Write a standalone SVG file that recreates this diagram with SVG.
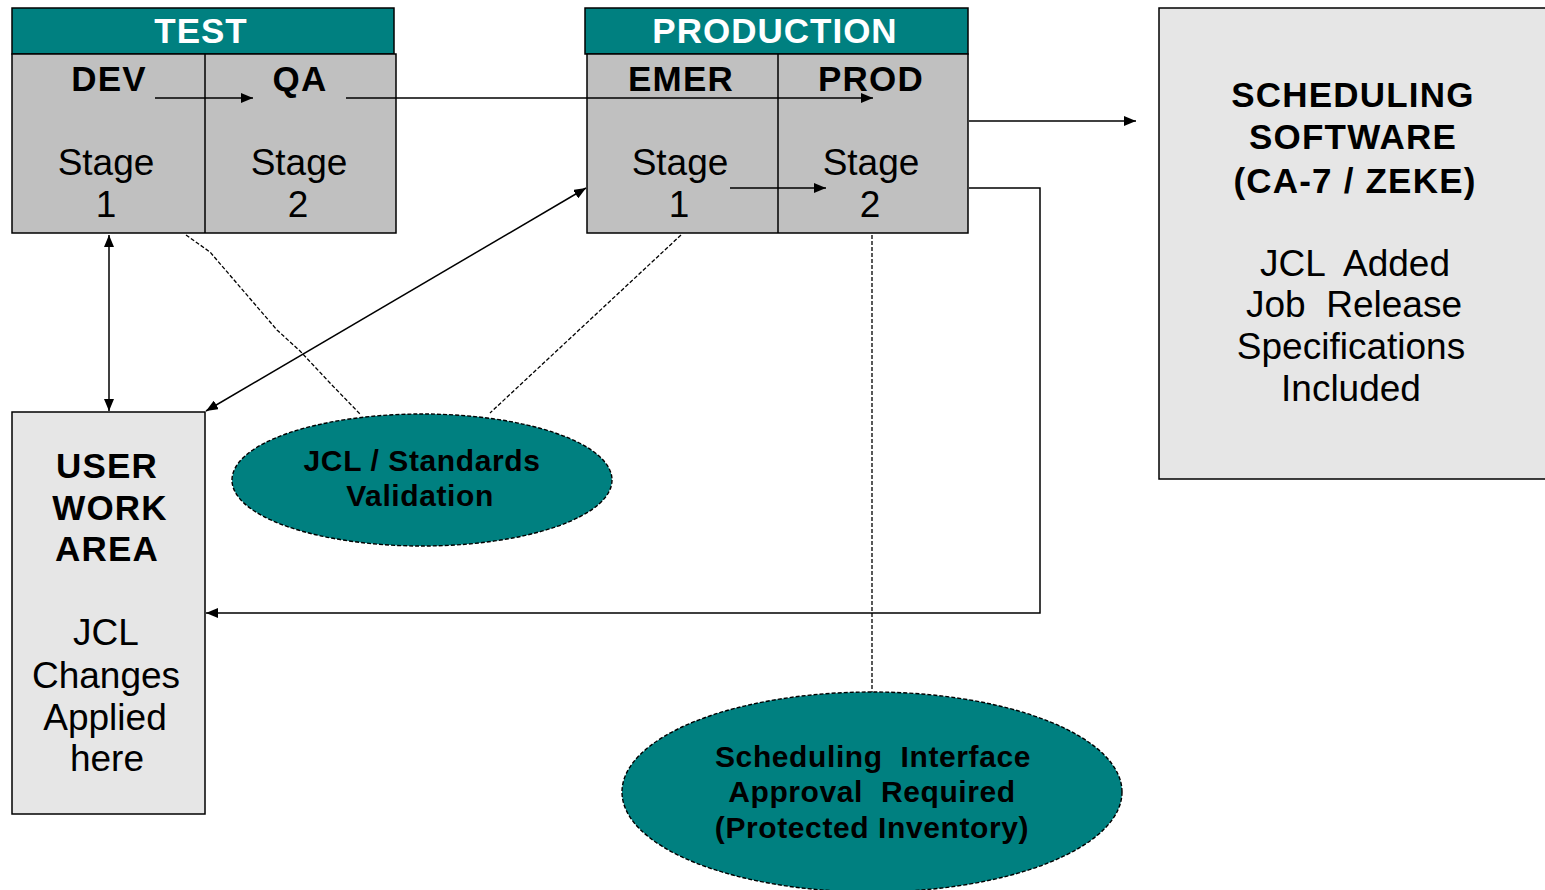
<svg xmlns="http://www.w3.org/2000/svg" width="1545" height="890" viewBox="0 0 1545 890">
  <style>
    .hdr { fill: #008080; stroke: #000; stroke-width: 1.5; }
    .body { fill: #c0c0c0; stroke: #000; stroke-width: 1.5; }
    .pale { fill: #e6e6e6; stroke: #000; stroke-width: 1.5; }
    .oval { fill: #008080; stroke: #000; stroke-width: 1.4; stroke-dasharray: 4 2; }
    .t { font-family: "Liberation Sans", Arial, sans-serif; text-anchor: middle; fill: #000; }
    .hd { font-size: 35px; font-weight: bold; fill: #fff; letter-spacing: 1px; }
    .bl { font-size: 35px; font-weight: bold; letter-spacing: 1.2px; }
    .rg { font-size: 37px; }
    .ov { font-size: 30px; font-weight: bold; letter-spacing: 0.6px; }
    .ln { fill: none; stroke: #000; stroke-width: 1.5; }
    .dash { fill: none; stroke: #000; stroke-width: 1.3; stroke-dasharray: 4 2; }
  </style>
  <defs>
    <marker id="ah" viewBox="0 0 12 10" refX="12" refY="5" markerWidth="12" markerHeight="10" markerUnits="userSpaceOnUse" orient="auto-start-reverse">
      <path d="M0,0 L12,5 L0,10 Z" fill="#000"/>
    </marker>
  </defs>

  <rect width="1545" height="890" fill="#fff"/>

  <!-- test environment -->
  <g id="test">
    <rect class="hdr" x="12" y="8" width="382" height="46"/>
    <text class="t hd" x="201" y="43">TEST</text>
    <rect class="body" x="12" y="54" width="384" height="179"/>
    <line class="ln" x1="205" y1="54" x2="205" y2="233"/>
  </g>
  <g id="dev">
    <text class="t bl" x="109" y="91">DEV</text>
    <text class="t rg" x="106" y="175">Stage</text>
    <text class="t rg" x="106" y="217">1</text>
  </g>
  <g id="qa">
    <text class="t bl" x="300" y="91">QA</text>
    <text class="t rg" x="299" y="175">Stage</text>
    <text class="t rg" x="298" y="217">2</text>
  </g>

  <!-- production environment -->
  <g id="production">
    <rect class="hdr" x="585" y="8" width="383" height="46"/>
    <text class="t hd" x="775" y="43">PRODUCTION</text>
    <rect class="body" x="587" y="54" width="381" height="179"/>
    <line class="ln" x1="778" y1="54" x2="778" y2="233"/>
  </g>
  <g id="emer">
    <text class="t bl" x="681" y="91">EMER</text>
    <text class="t rg" x="680" y="175">Stage</text>
    <text class="t rg" x="679" y="217">1</text>
  </g>
  <g id="prod">
    <text class="t bl" x="871" y="91">PROD</text>
    <text class="t rg" x="871" y="175">Stage</text>
    <text class="t rg" x="870" y="217">2</text>
  </g>

  <!-- scheduling software -->
  <g id="scheduling">
    <rect class="pale" x="1159" y="8" width="392" height="471"/>
    <text class="t bl" x="1353" y="107">SCHEDULING</text>
    <text class="t bl" x="1353" y="149">SOFTWARE</text>
    <text class="t bl" x="1355" y="193">(CA-7 / ZEKE)</text>
    <text class="t rg" x="1355" y="276" xml:space="preserve">JCL  Added</text>
    <text class="t rg" x="1354" y="317" xml:space="preserve">Job  Release</text>
    <text class="t rg" x="1351" y="359">Specifications</text>
    <text class="t rg" x="1351" y="401">Included</text>
  </g>

  <!-- user work area -->
  <g id="user-work-area">
    <rect class="pale" x="12" y="412" width="193" height="402"/>
    <text class="t bl" x="107" y="478">USER</text>
    <text class="t bl" x="110" y="520">WORK</text>
    <text class="t bl" x="107" y="561">AREA</text>
    <text class="t rg" x="106" y="645">JCL</text>
    <text class="t rg" x="106" y="688">Changes</text>
    <text class="t rg" x="105" y="730">Applied</text>
    <text class="t rg" x="107" y="771">here</text>
  </g>

  <!-- validation oval -->
  <g id="validation">
    <ellipse class="oval" cx="422" cy="480" rx="190" ry="66"/>
    <text class="t ov" x="422" y="471">JCL / Standards</text>
    <text class="t ov" x="420" y="506">Validation</text>
  </g>

  <!-- scheduling interface oval -->
  <g id="approval">
    <ellipse class="oval" cx="872" cy="792" rx="250" ry="100"/>
    <text class="t ov" x="873" y="767" xml:space="preserve">Scheduling  Interface</text>
    <text class="t ov" x="872" y="802" xml:space="preserve">Approval  Required</text>
    <text class="t ov" x="872" y="838">(Protected Inventory)</text>
  </g>

  <!-- connectors -->
  <g id="connectors">
    <line class="ln" x1="155" y1="98" x2="253" y2="98" marker-end="url(#ah)"/>
    <line class="ln" x1="346" y1="98" x2="873" y2="98" marker-end="url(#ah)"/>
    <line class="ln" x1="730" y1="188" x2="826" y2="188" marker-end="url(#ah)"/>
    <line class="ln" x1="969" y1="121" x2="1136" y2="121" marker-end="url(#ah)"/>
    <polyline class="ln" points="969,188 1040,188 1040,613 206,613" marker-end="url(#ah)"/>
    <line class="ln" x1="109" y1="235" x2="109" y2="411" marker-start="url(#ah)" marker-end="url(#ah)"/>
    <line class="ln" x1="586" y1="188" x2="206" y2="411" marker-start="url(#ah)" marker-end="url(#ah)"/>
    <polyline class="dash" points="186,235 210,252 277,330 300,351 330,383 360,414"/>
    <line class="dash" x1="681" y1="235" x2="490" y2="413"/>
    <line class="dash" x1="872" y1="235" x2="872" y2="692"/>
  </g>
</svg>
